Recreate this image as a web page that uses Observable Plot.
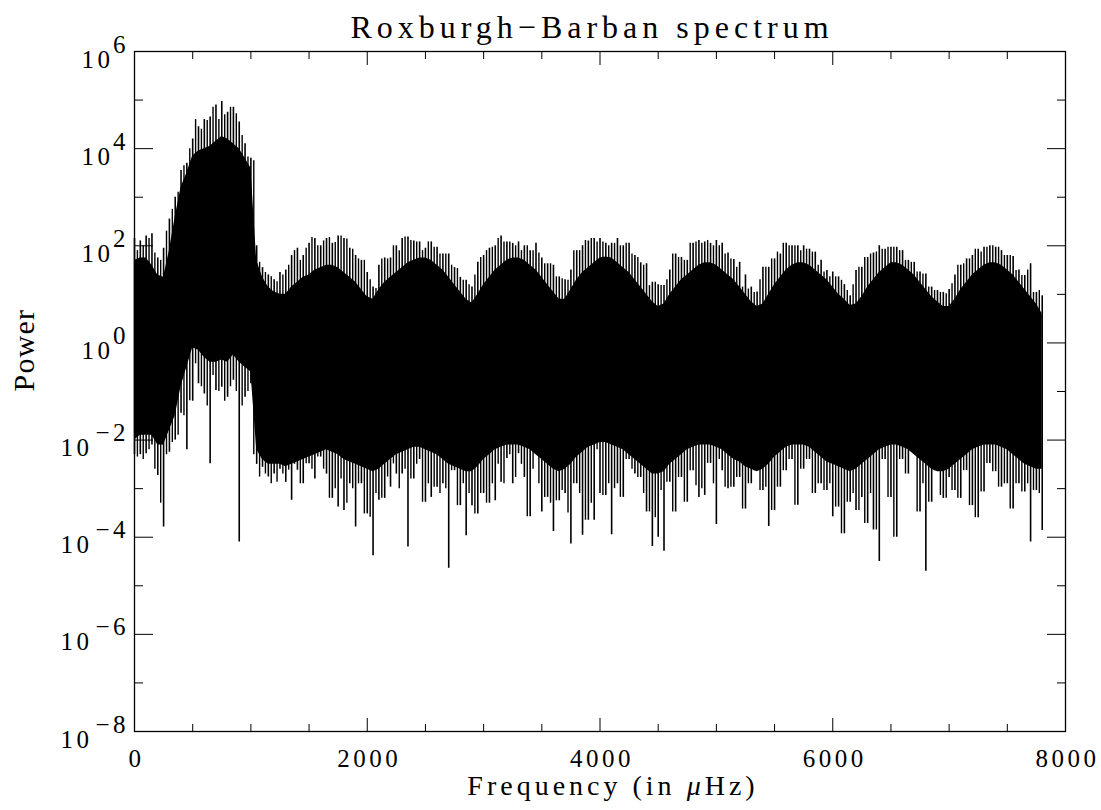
<!DOCTYPE html>
<html>
<head>
<meta charset="utf-8">
<script src="https://cdn.jsdelivr.net/npm/d3@7"></script>
<script src="https://cdn.jsdelivr.net/npm/@observablehq/plot@0.6"></script>
<style>
  body { margin: 0; background: #fff; }
  svg text { font-family: "Liberation Serif", serif; }
  g[aria-description="title"] text { letter-spacing: 5px; }
  g[aria-description="xtitle"] text { letter-spacing: 4px; }
  g[aria-description="ytitle"] text { letter-spacing: 1.2px; }
  g[aria-description="xticklabel"] text, g[aria-description="ybase"] text, g[aria-description="yexp"] text { letter-spacing: 3.5px; }
</style>
</head>
<body>
<div id="chart"></div>
<script>
// Frequency bins (μHz)
const freq = [
  0,50,100,150,200,250,300,350,400,450,
  500,550,600,650,700,750,800,850,900,950,
  1000,1050,1100,1150,1200,1250,1300,1350,1400,1450,
  1500,1550,1600,1650,1700,1750,1800,1850,1900,1950,
  2000,2050,2100,2150,2200,2250,2300,2350,2400,2450,
  2500,2550,2600,2650,2700,2750,2800,2850,2900,2950,
  3000,3050,3100,3150,3200,3250,3300,3350,3400,3450,
  3500,3550,3600,3650,3700,3750,3800,3850,3900,3950,
  4000,4050,4100,4150,4200,4250,4300,4350,4400,4450,
  4500,4550,4600,4650,4700,4750,4800,4850,4900,4950,
  5000,5050,5100,5150,5200,5250,5300,5350,5400,5450,
  5500,5550,5600,5650,5700,5750,5800,5850,5900,5950,
  6000,6050,6100,6150,6200,6250,6300,6350,6400,6450,
  6500,6550,6600,6650,6700,6750,6800,6850,6900,6950,
  7000,7050,7100,7150,7200,7250,7300,7350,7400,7450,
  7500,7550,7600,7650,7700,7750,7800
];
// log10 of the highest spike in each bin
const log10Peak = [
  2.15,2.1,2.2,2.25,1.75,1.95,2.55,3.0,3.55,3.7,
  4.2,4.45,4.6,4.65,4.9,4.97,4.75,4.85,4.55,4.1,
  3.8,2.0,1.55,1.4,1.3,1.45,1.5,1.8,1.95,1.8,
  2.05,2.15,2.0,2.15,2.05,2.2,2.15,1.95,1.8,1.7,
  1.45,1.15,1.6,1.75,1.75,2.0,2.15,2.18,2.1,2.08,
  1.95,2.08,1.97,1.83,1.83,1.55,1.35,1.29,1.15,1.66,
  1.8,1.95,2.0,2.2,2.08,2.05,2.08,2.0,1.9,2.05,
  1.75,1.63,1.6,1.36,1.3,1.5,1.9,2.0,2.1,2.15,
  2.15,2.05,2.05,2.15,2.0,2.05,1.8,1.65,1.63,1.25,
  1.2,1.18,1.5,1.83,1.76,1.7,2.05,2.11,2.08,2.05,
  2.11,2.05,1.85,1.72,1.66,1.4,1.15,1.05,1.56,1.56,
  1.73,1.83,2.05,2.0,2.0,2.0,1.93,1.87,1.7,1.49,
  1.46,1.36,1.2,0.97,1.49,1.56,1.76,1.85,2.0,1.93,
  1.97,1.97,1.9,1.7,1.66,1.46,1.42,1.15,1.08,1.04,
  1.1,1.4,1.6,1.73,1.8,1.93,1.97,2.0,1.97,1.9,
  1.8,1.78,1.5,1.39,1.63,1.04,0.97
];
// log10 of the deepest dip in each bin
const log10Trough = [
  -2.3,-2.3,-2.28,-2.1,-2.73,-3.79,-2.25,-2.0,-1.45,-2.2,
  -1.2,-0.84,-1.05,-2.49,-0.98,-0.91,-1.12,-0.77,-4.1,-1.12,
  -0.84,-2.5,-2.56,-2.76,-2.7,-2.6,-2.87,-3.24,-2.62,-2.9,
  -2.49,-2.8,-2.35,-2.7,-3.2,-3.38,-3.45,-2.9,-3.79,-2.9,
  -3.52,-4.38,-3.24,-3.2,-2.97,-2.7,-2.7,-4.2,-2.8,-2.4,
  -3.28,-3.18,-2.97,-2.9,-4.64,-2.63,-3.35,-3.97,-3.35,-3.52,
  -3.1,-3.3,-3.25,-2.87,-2.38,-2.9,-2.28,-2.77,-3.58,-2.25,
  -3.48,-3.18,-3.88,-3.25,-3.1,-4.14,-2.9,-3.96,-3.65,-3.65,
  -3.1,-3.14,-3.95,-2.9,-3.18,-2.4,-2.7,-2.77,-3.48,-4.19,
  -4.0,-4.29,-2.87,-3.48,-2.77,-3.28,-2.63,-3.18,-3.14,-2.48,
  -3.74,-2.63,-3.0,-2.97,-2.77,-3.42,-2.9,-2.63,-3.04,-3.78,
  -3.45,-2.97,-2.63,-2.4,-3.34,-2.6,-2.4,-3.1,-2.9,-3.04,
  -3.58,-3.38,-3.93,-3.28,-3.45,-3.18,-3.72,-3.85,-4.5,-2.4,
  -3.18,-4.0,-2.4,-2.7,-2.2,-3.48,-4.7,-3.28,-2.63,-3.2,
  -2.77,-3.04,-3.2,-2.63,-3.35,-3.6,-3.07,-2.48,-2.65,-2.97,
  -2.9,-3.42,-2.9,-3.07,-4.1,-3.04,-3.86
];
// log10 of the upper edge of the dense (solid) band
const log10BandHi = [
  1.7,1.75,1.75,1.6,1.4,1.35,1.9,2.6,3.2,3.5,
  3.85,3.95,4.0,4.05,4.15,4.25,4.2,4.1,4.0,3.8,
  3.6,1.7,1.35,1.15,1.05,1.0,1.0,1.15,1.25,1.35,
  1.4,1.5,1.55,1.6,1.6,1.55,1.45,1.35,1.25,1.1,
  0.95,0.9,1.1,1.25,1.35,1.45,1.55,1.65,1.7,1.75,
  1.75,1.7,1.6,1.5,1.35,1.2,1.05,0.9,0.82,1.0,
  1.2,1.35,1.5,1.6,1.7,1.75,1.75,1.7,1.6,1.5,
  1.35,1.2,1.05,0.9,0.9,1.1,1.3,1.45,1.55,1.65,
  1.75,1.77,1.75,1.65,1.55,1.45,1.3,1.15,1.0,0.85,
  0.75,0.8,1.0,1.15,1.3,1.4,1.5,1.6,1.65,1.65,
  1.6,1.5,1.4,1.3,1.15,1.0,0.85,0.75,0.8,1.0,
  1.2,1.35,1.5,1.6,1.65,1.65,1.6,1.5,1.4,1.3,
  1.15,1.0,0.9,0.77,0.8,0.95,1.15,1.3,1.45,1.55,
  1.65,1.65,1.6,1.5,1.4,1.25,1.1,0.95,0.85,0.75,
  0.75,0.9,1.1,1.25,1.4,1.5,1.6,1.65,1.65,1.6,
  1.5,1.4,1.25,1.1,0.95,0.8,0.6
];
// log10 of the lower edge of the dense (solid) band
const log10BandLo = [
  -2.0,-1.9,-1.9,-1.9,-2.1,-2.1,-1.8,-1.5,-0.9,-0.5,
  -0.1,-0.15,-0.3,-0.4,-0.4,-0.35,-0.4,-0.25,-0.4,-0.5,
  -0.6,-2.2,-2.4,-2.5,-2.5,-2.5,-2.55,-2.5,-2.45,-2.4,
  -2.35,-2.3,-2.25,-2.2,-2.25,-2.3,-2.4,-2.45,-2.5,-2.55,
  -2.6,-2.65,-2.6,-2.5,-2.4,-2.3,-2.25,-2.2,-2.15,-2.15,
  -2.2,-2.25,-2.3,-2.4,-2.5,-2.55,-2.6,-2.65,-2.65,-2.55,
  -2.4,-2.3,-2.2,-2.15,-2.1,-2.1,-2.1,-2.15,-2.2,-2.3,
  -2.4,-2.5,-2.6,-2.65,-2.6,-2.5,-2.35,-2.25,-2.15,-2.1,
  -2.05,-2.05,-2.1,-2.15,-2.2,-2.3,-2.4,-2.5,-2.6,-2.7,
  -2.7,-2.65,-2.5,-2.4,-2.3,-2.2,-2.15,-2.1,-2.1,-2.1,
  -2.15,-2.2,-2.3,-2.4,-2.45,-2.55,-2.6,-2.65,-2.6,-2.5,
  -2.35,-2.25,-2.15,-2.1,-2.1,-2.1,-2.15,-2.25,-2.35,-2.45,
  -2.5,-2.55,-2.6,-2.65,-2.6,-2.5,-2.4,-2.3,-2.2,-2.15,
  -2.1,-2.1,-2.15,-2.2,-2.3,-2.4,-2.5,-2.6,-2.65,-2.65,
  -2.6,-2.5,-2.4,-2.3,-2.2,-2.15,-2.1,-2.1,-2.1,-2.15,
  -2.2,-2.3,-2.4,-2.5,-2.55,-2.6,-2.6
];
// In-between spikes, half a bin later (μHz)
const freqMid = [
  25,75,125,175,225,275,325,375,425,475,
  525,575,625,675,725,775,825,875,925,975,
  1025,1075,1125,1175,1225,1275,1325,1375,1425,1475,
  1525,1575,1625,1675,1725,1775,1825,1875,1925,1975,
  2025,2075,2125,2175,2225,2275,2325,2375,2425,2475,
  2525,2575,2625,2675,2725,2775,2825,2875,2925,2975,
  3025,3075,3125,3175,3225,3275,3325,3375,3425,3475,
  3525,3575,3625,3675,3725,3775,3825,3875,3925,3975,
  4025,4075,4125,4175,4225,4275,4325,4375,4425,4475,
  4525,4575,4625,4675,4725,4775,4825,4875,4925,4975,
  5025,5075,5125,5175,5225,5275,5325,5375,5425,5475,
  5525,5575,5625,5675,5725,5775,5825,5875,5925,5975,
  6025,6075,6125,6175,6225,6275,6325,6375,6425,6475,
  6525,6575,6625,6675,6725,6775,6825,6875,6925,6975,
  7025,7075,7125,7175,7225,7275,7325,7375,7425,7475,
  7525,7575,7625,7675,7725,7775
];
const log10PeakMid = [
  1.9,2.0,2.15,1.85,1.7,2.3,2.75,3.1,3.65,4.0,
  4.6,4.4,4.58,4.85,4.6,4.7,4.85,4.72,4.27,3.83,
  3.75,1.66,1.45,1.36,1.26,1.4,1.6,1.9,1.7,1.95,
  2.17,2.0,2.1,2.17,2.07,2.2,2.14,1.93,1.73,1.7,
  1.3,1.12,1.73,1.73,2.0,1.9,2.18,2.11,2.08,1.9,
  2.08,1.97,1.83,1.83,1.6,1.53,1.29,1.2,1.4,1.76,
  1.9,1.97,2.15,2.08,2.08,2.0,1.9,2.0,1.9,1.85,
  1.63,1.63,1.36,1.32,1.29,1.9,1.9,2.11,2.15,2.08,
  2.08,2.0,2.05,2.0,2.05,1.83,1.76,1.6,1.18,1.25,
  1.18,1.3,1.83,1.76,1.7,2.05,2.08,2.05,2.11,2.0,
  2.0,1.83,1.73,1.56,1.15,1.11,1.04,1.3,1.56,1.73,
  1.87,2.05,2.0,2.0,1.9,1.93,1.87,1.6,1.46,1.36,
  1.36,1.29,1.08,1.2,1.56,1.76,1.83,1.87,1.93,1.97,
  1.97,1.9,1.7,1.66,1.46,1.42,1.15,1.08,1.04,1.01,
  1.22,1.6,1.63,1.73,1.93,1.87,1.97,2.0,1.97,1.8,
  1.8,1.49,1.39,1.5,1.04,1.08
];
const log10TroughMid = [
  -2.35,-2.4,-2.2,-2.6,-3.3,-2.3,-2.05,-1.9,-1.5,-1.19,
  -0.43,-0.9,-1.3,-0.67,-1.0,-1.2,-0.9,-1.0,-1.3,-1.0,
  -2.3,-2.76,-2.7,-2.9,-2.87,-2.7,-2.62,-2.5,-2.9,-2.49,
  -2.6,-2.35,-2.6,-3.2,-3.0,-2.8,-3.3,-3.0,-2.9,-3.52,
  -3.59,-3.1,-3.2,-2.76,-2.49,-3.0,-2.6,-2.8,-2.5,-3.28,
  -2.9,-2.97,-3.1,-3.0,-2.63,-3.35,-2.9,-3.1,-3.52,-3.1,
  -3.3,-2.9,-2.5,-2.9,-2.3,-2.77,-2.5,-3.58,-2.6,-2.9,
  -3.18,-3.3,-3.25,-3.04,-3.5,-2.9,-3.1,-3.65,-3.3,-2.2,
  -3.14,-2.9,-3.0,-3.18,-2.4,-2.6,-2.77,-3.1,-3.48,-3.6,
  -3.04,-2.87,-3.48,-2.77,-3.28,-2.63,-2.94,-3.0,-2.48,-2.9,
  -2.4,-2.97,-2.97,-2.77,-3.42,-2.9,-2.63,-3.04,-2.97,-3.45,
  -2.97,-2.63,-2.4,-3.34,-2.6,-2.4,-3.1,-2.9,-3.04,-2.9,
  -3.38,-3.93,-3.28,-3.1,-3.45,-3.72,-3.1,-3.85,-2.4,-3.18,
  -4.0,-2.4,-2.7,-2.2,-3.48,-2.9,-3.28,-2.63,-3.14,-3.2,
  -3.04,-3.2,-2.63,-3.35,-3.6,-3.07,-2.48,-2.65,-2.97,-2.9,
  -3.42,-2.9,-3.07,-2.9,-3.04,-3.1
];

const yMajor = [1e-8, 1e-6, 1e-4, 1e-2, 1e0, 1e2, 1e4, 1e6];
const yMinor = [1e-7, 1e-5, 1e-3, 1e-1, 1e1, 1e3, 1e5];
const yExpLabels = ["\u22128", "\u22126", "\u22124", "\u22122", "0", "2", "4", "6"];
const xMajor = [0, 2000, 4000, 6000, 8000];
const xMinor = [500, 1000, 1500, 2500, 3000, 3500, 4500, 5000, 5500, 6500, 7000, 7500];
const titleText = "Roxburgh\u2212Barban spectrum";
const xTitle = "Frequency (in \u03bcHz)";
const yTitle = "Power";

const rows = freq.map((f, i) => ({
  f,
  peak: 10 ** log10Peak[i],
  trough: 10 ** log10Trough[i],
  hi: 10 ** log10BandHi[i],
  lo: 10 ** log10BandLo[i]
}));
const midRows = freqMid.map((f, i) => ({
  f,
  peak: 10 ** log10PeakMid[i],
  trough: 10 ** log10TroughMid[i]
}));

const yLab = yMajor.map((v, i) => ({v, exp: yExpLabels[i], neg: yExpLabels[i].startsWith("\u2212")}));

const noText = {fill: "none", tickFormat: () => "", label: null};

const chart = Plot.plot({
  width: 1101,
  height: 810,
  marginLeft: 134,
  marginRight: 36,
  marginTop: 51,
  marginBottom: 79,
  style: {background: "white", color: "black", fontFamily: "Liberation Serif, serif"},
  x: {domain: [0, 8000], axis: null},
  y: {type: "log", domain: [1e-8, 1e6], axis: null},
  marks: [
    Plot.areaY(rows, {x: "f", y1: "lo", y2: "hi", fill: "black", curve: "linear"}),
    Plot.ruleX(rows, {x: "f", y1: "trough", y2: "peak", stroke: "black", strokeWidth: 1.6}),
    Plot.ruleX(midRows, {x: "f", y1: "trough", y2: "peak", stroke: "black", strokeWidth: 1.4}),
    Plot.frame({stroke: "black", strokeWidth: 1.3}),
    // inward ticks on all four sides
    Plot.axisY(yMajor, {anchor: "left", tickSize: 19, dx: 19, ...noText}),
    Plot.axisY(yMinor, {anchor: "left", tickSize: 9, dx: 9, ...noText}),
    Plot.axisY(yMajor, {anchor: "right", tickSize: 19, dx: -19, ...noText}),
    Plot.axisY(yMinor, {anchor: "right", tickSize: 9, dx: -9, ...noText}),
    Plot.axisX(xMajor, {anchor: "bottom", tickSize: 13, dy: -13, ...noText}),
    Plot.axisX(xMinor, {anchor: "bottom", tickSize: 7, dy: -7, ...noText}),
    Plot.axisX(xMajor, {anchor: "top", tickSize: 13, dy: 13, ...noText}),
    Plot.axisX(xMinor, {anchor: "top", tickSize: 7, dy: 7, ...noText}),
    // x tick labels
    Plot.text(xMajor, {x: d => d, frameAnchor: "bottom", lineAnchor: "bottom", dy: 35, dx: 2, text: d => String(d), fontSize: 25, fill: "black", ariaDescription: "xticklabel"}),
    // y tick labels: base "10" and exponent
    Plot.text(yLab.filter(d => !d.neg), {y: "v", frameAnchor: "left", textAnchor: "end", lineAnchor: "bottom", dx: -21, dy: 16, text: () => "10", fontSize: 25, fill: "black", ariaDescription: "ybase"}),
    Plot.text(yLab.filter(d => d.neg), {y: "v", frameAnchor: "left", textAnchor: "end", lineAnchor: "bottom", dx: -42, dy: 16, text: () => "10", fontSize: 25, fill: "black", ariaDescription: "ybase"}),
    Plot.text(yLab, {y: "v", frameAnchor: "left", textAnchor: "end", lineAnchor: "bottom", dx: -5.5, dy: 1, text: "exp", fontSize: 25, fill: "black", ariaDescription: "yexp"}),
    // titles
    Plot.text([titleText], {frameAnchor: "top", lineAnchor: "bottom", dy: -14, dx: -8, text: d => d, fontSize: 32, fill: "black", ariaDescription: "title"}),
    Plot.text([xTitle], {frameAnchor: "bottom", lineAnchor: "bottom", dy: 63, dx: 13, text: d => d, fontSize: 28, fill: "black", ariaDescription: "xtitle"}),
    Plot.text([yTitle], {frameAnchor: "left", lineAnchor: "bottom", rotate: -90, dx: -101, text: d => d, fontSize: 30, fill: "black", ariaDescription: "ytitle"})
  ]
});

// italic mu in the x title
const xt = chart.querySelector('g[aria-description="xtitle"] text');
if (xt) {
  xt.textContent = "";
  const ns = "http://www.w3.org/2000/svg";
  const parts = [["Frequency (in ", null], ["\u03bc", "italic"], ["Hz)", null]];
  for (const [s, st] of parts) {
    const ts = document.createElementNS(ns, "tspan");
    ts.textContent = s;
    if (st) ts.setAttribute("font-style", st);
    xt.appendChild(ts);
  }
}

document.getElementById("chart").appendChild(chart);
</script>
</body>
</html>
